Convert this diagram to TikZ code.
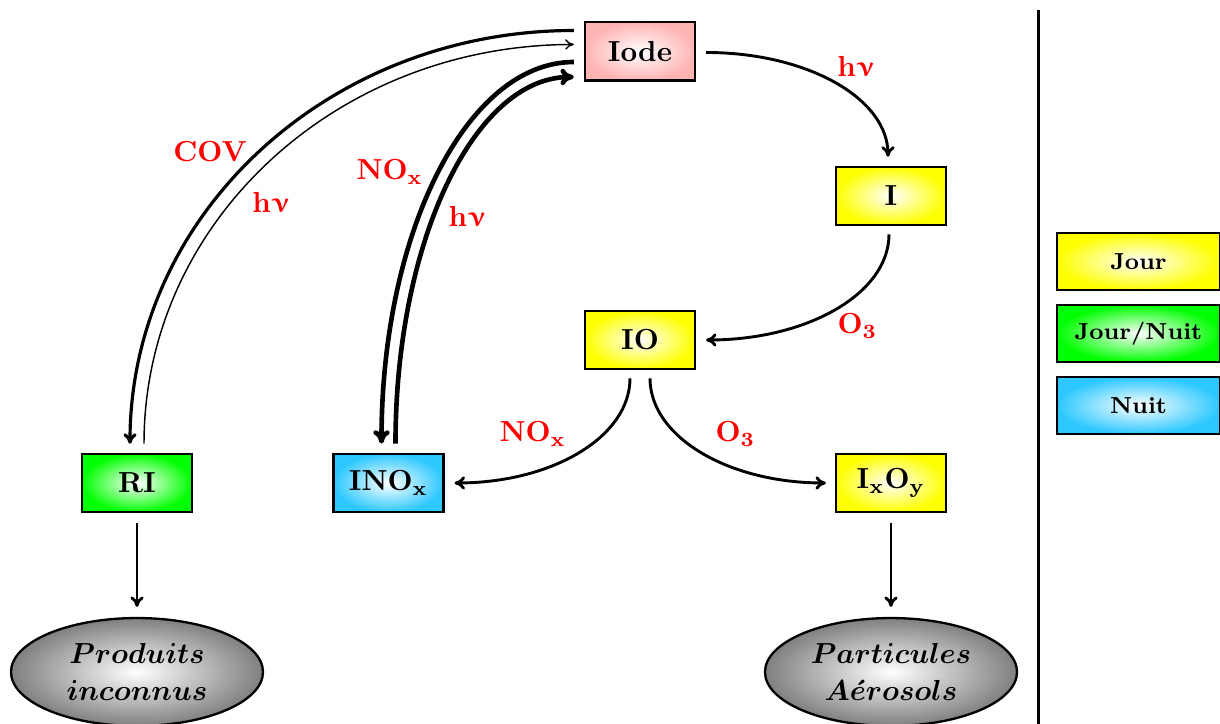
\documentclass[tikz,border=0pt]{standalone}
\usepackage{bm}
\usepackage{upgreek}
\usetikzlibrary{calc,shapes.geometric,arrows.meta}
\definecolor{pinkc}{RGB}{255,180,180}
\definecolor{cyanc}{RGB}{45,200,255}
\newcommand{\hnu}{h$\bm{\upnu}$}
\begin{document}
\begin{tikzpicture}[x=0.3448pt,y=-0.3448pt,
  box/.style={draw=black, line width=0.8pt, minimum width=37.9pt, minimum height=20.1pt, inner sep=0pt, font=\bfseries, shading=radial, inner color=white},
  leg/.style={box, minimum width=56.2pt, minimum height=19.65pt, font=\footnotesize\bfseries},
  blob/.style={ellipse, draw=black, line width=0.8pt, minimum width=86.9pt, minimum height=37.2pt, inner sep=0pt, shading=radial, inner color=white, outer color=black!50, align=center, font=\boldmath},
  lbl/.style={text=red, font=\bfseries, inner sep=0pt, anchor=base west},
  arr/.style={-{To[length=3.6pt,width=4.6pt]}, line width=1pt},
  fatarr/.style={-{To[length=4.6pt,width=5.6pt]}, line width=1.6pt},
]
\useasboundingbox (0,0) rectangle (1220,724);

% main nodes
\node[box, outer color=pinkc] (iode) at (640,51.5) {Iode};
\node[box, outer color=yellow] (i) at (891,196) {I};
\node[box, outer color=yellow] (io) at (640,340) {IO};
\node[box, outer color=green] (ri) at (137,483) {RI};
\node[box, outer color=cyanc] (ino) at (388.5,483) {INO$_{\mathbf{x}}$};
\node[box, outer color=yellow] (ixoy) at (891,483) {I$_{\mathbf{x}}$O$_{\mathbf{y}}$};
\node[blob] (prod) at (137,672) {$Produits$\\[1pt]$inconnus$};
\node[blob] (part) at (891,672) {$Particules$\\[1pt]$A\acute{e}rosols$};

% legend
\node[leg, outer color=yellow] (lj) at (1138.5,261.5) {Jour};
\node[leg, outer color=green] (ljn) at (1138.5,333.5) {Jour/Nuit};
\node[leg, outer color=cyanc] (ln) at (1138.5,405.5) {Nuit};

% separator
\coordinate (sepT) at (1038.3,10.5);
\coordinate (sepB) at (1038.3,724);
\draw[line width=0.9pt] (sepT) -- (sepB);

% left loops
\draw[-{To[length=3.6pt,width=4.6pt]}, line width=1.1pt] ($(iode.west)+(-10,-21)$) .. controls +(-245.8,0) and +(0,-229) .. ($(ri.north)+(-7,-9)$);
\draw[-{To[length=3pt,width=3.6pt]}, line width=0.5pt] ($(ri.north)+(7,-9)$) .. controls +(0,-221.2) and +(-238,0) .. ($(iode.west)+(-10,-7)$);
\draw[fatarr] ($(iode.west)+(-10,10.5)$) .. controls +(-106.9,0) and +(0,-211.5) .. ($(ino.north)+(-7,-9)$);
\draw[fatarr] ($(ino.north)+(7,-9)$) .. controls +(0,-203.2) and +(-99.1,0) .. ($(iode.west)+(-10,25.5)$);

% right chain
\draw[arr] ($(iode.east)+(10,1)$) .. controls +(101,0) and +(0,-58.3) .. ($(i.north)+(-3,-9)$);
\draw[arr] ($(i.south)+(-2,8)$) .. controls +(0,59.1) and +(101.6,0) .. ($(io.east)+(10,0)$);
\draw[arr] ($(io.south)+(-10,8)$) .. controls +(0,58.5) and +(97.8,0) .. ($(ino.east)+(10,0)$);
\draw[arr] ($(io.south)+(10,8)$) .. controls +(0,58.5) and +(-97.8,0) .. ($(ixoy.west)+(-9,0)$);

% to products
\draw[arr] ($(ri.south)+(0,10)$) -- ($(prod.north)+(0,-10)$);
\draw[arr] ($(ixoy.south)+(0,10)$) -- ($(part.north)+(0,-10)$);

% labels
\node[lbl] (cov) at (172.7,161.5) {COV};
\node[lbl] (hv1) at (251.7,212.7) {\hnu};
\node[lbl] (nox1) at (356,180) {NO$_{\mathbf{x}}$};
\node[lbl] (hv2) at (448,227) {\hnu};
\node[lbl] (hv3) at (836.7,76.7) {\hnu};
\node[lbl] (o31) at (837,334) {O$_{\mathbf{3}}$};
\node[lbl] (nox2) at (499,441.7) {NO$_{\mathbf{x}}$};
\node[lbl] (o32) at (715,441.7) {O$_{\mathbf{3}}$};
\end{tikzpicture}
\end{document}
